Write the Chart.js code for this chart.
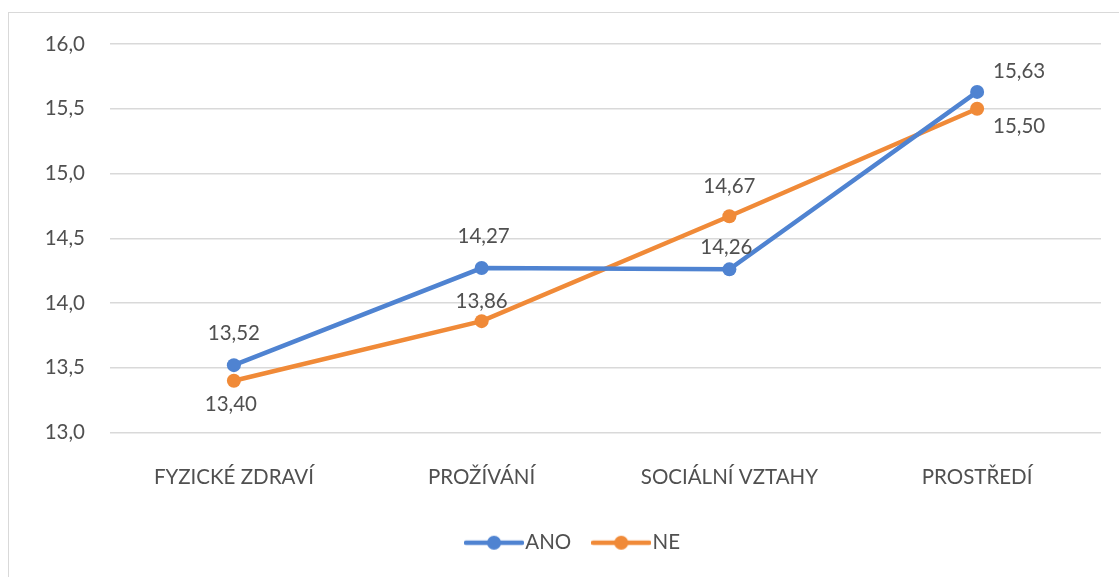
<!DOCTYPE html>
<html>
<head>
<meta charset="utf-8">
<script src="https://cdn.jsdelivr.net/npm/chart.js@4/dist/chart.umd.min.js"></script>
<style>
  html, body { margin: 0; padding: 0; background: #ffffff; }
  #wrap { position: relative; width: 1119px; height: 577px; overflow: hidden; }
  #frame { position: absolute; left: 8px; top: 12px; width: 2000px; height: 2000px;
           border-left: 1.5px solid #d9d9d9; border-top: 1.5px solid #d9d9d9; }
  canvas { position: absolute; left: 0; top: 0; }
</style>
</head>
<body>
<div id="wrap">
  <div id="frame"></div>
  <canvas id="c" width="1119" height="577"></canvas>
</div>
<script>
const categories = ['FYZICKÉ ZDRAVÍ', 'PROŽÍVÁNÍ', 'SOCIÁLNÍ VZTAHY', 'PROSTŘEDÍ'];
const seriesNames = ['ANO', 'NE'];
const anoValues = [13.52, 14.27, 14.26, 15.63];
const neValues = [13.40, 13.86, 14.67, 15.50];
const yTicks = [13.0, 13.5, 14.0, 14.5, 15.0, 15.5, 16.0];

const BLUE = '#4f83d1';
const ORANGE = '#f08a38';
const TEXT = '#505050';
const FONT = 'Lato, "Open Sans", sans-serif';
const FS = 20.5;

// label placement (style only): [dx, dy] relative to point
const labelPlacement = [
  [[0, -32], [2, -32], [-3, -22], [42, -21]],
  [[-3, 24], [0, -20], [0, -30], [42, 18]]
];

function fmt2(v) { return v.toFixed(2).replace('.', ','); }
function fmt1(v) { return Number(v).toFixed(1).replace('.', ','); }

function legendIcon(color) {
  const c = document.createElement('canvas');
  c.width = 60; c.height = 16;
  const g = c.getContext('2d');
  g.strokeStyle = color; g.lineWidth = 4.5; g.lineCap = 'round';
  g.beginPath(); g.moveTo(2, 8); g.lineTo(58, 8); g.stroke();
  g.fillStyle = color;
  g.beginPath(); g.arc(30, 8, 7, 0, Math.PI * 2); g.fill();
  return c;
}
const icons = [legendIcon(BLUE), legendIcon(ORANGE)];

const dataLabelPlugin = {
  id: 'dataLabelPlugin',
  afterDatasetsDraw(chart) {
    const ctx = chart.ctx;
    ctx.save();
    ctx.font = FS + 'px ' + FONT;
    ctx.fillStyle = TEXT;
    ctx.textAlign = 'center';
    ctx.textBaseline = 'middle';
    chart.data.datasets.forEach((ds, di) => {
      const meta = chart.getDatasetMeta(di);
      meta.data.forEach((pt, i) => {
        const off = labelPlacement[di][i];
        ctx.fillText(fmt2(ds.data[i]), pt.x + off[0], pt.y + off[1]);
      });
    });
    ctx.restore();
  }
};

// shift legend centering box slightly to the right (as in the reference)
const legendShift = {
  id: 'legendShift',
  afterLayout(chart) {
    if (chart.legend) { chart.legend.left += 52; }
  }
};

new Chart(document.getElementById('c'), {
  type: 'line',
  data: {
    labels: categories,
    datasets: [
      { label: seriesNames[0], data: anoValues, borderColor: BLUE, backgroundColor: BLUE,
        borderWidth: 4.5, pointRadius: 7, pointHoverRadius: 7, pointBorderWidth: 0, tension: 0 },
      { label: seriesNames[1], data: neValues, borderColor: ORANGE, backgroundColor: ORANGE,
        borderWidth: 4.5, pointRadius: 7, pointHoverRadius: 7, pointBorderWidth: 0, tension: 0 }
    ]
  },
  options: {
    responsive: false,
    devicePixelRatio: 1,
    animation: false,
    layout: { padding: { left: 0, right: 18, top: 44, bottom: 14 } },
    scales: {
      x: {
        offset: true,
        grid: { display: false, drawTicks: false, offset: true },
        border: { display: false },
        ticks: { color: TEXT, font: { family: FONT, size: FS }, padding: 33, maxRotation: 0 },
        afterFit(scale) { scale.height = 71; }
      },
      y: {
        min: 13, max: 16,
        afterBuildTicks(scale) { scale.ticks = yTicks.map(v => ({ value: v })); },
        grid: { color: '#d9d9d9', lineWidth: 1.5, drawTicks: false },
        border: { display: false },
        ticks: { color: TEXT, font: { family: FONT, size: FS }, padding: 25, callback: v => fmt1(v) },
        afterFit(scale) { scale.width = 110; }
      }
    },
    plugins: {
      tooltip: { enabled: false },
      legend: {
        position: 'bottom',
        labels: {
          color: TEXT,
          font: { family: FONT, size: FS },
          usePointStyle: true,
          pointStyleWidth: 42,
          padding: 29,
          generateLabels(chart) {
            return chart.data.datasets.map((ds, i) => ({
              text: ds.label, pointStyle: icons[i], fontColor: TEXT,
              strokeStyle: ds.borderColor, fillStyle: ds.backgroundColor,
              lineWidth: 0, hidden: false, datasetIndex: i
            }));
          }
        }
      }
    }
  },
  plugins: [dataLabelPlugin, legendShift]
});
</script>
</body>
</html>
